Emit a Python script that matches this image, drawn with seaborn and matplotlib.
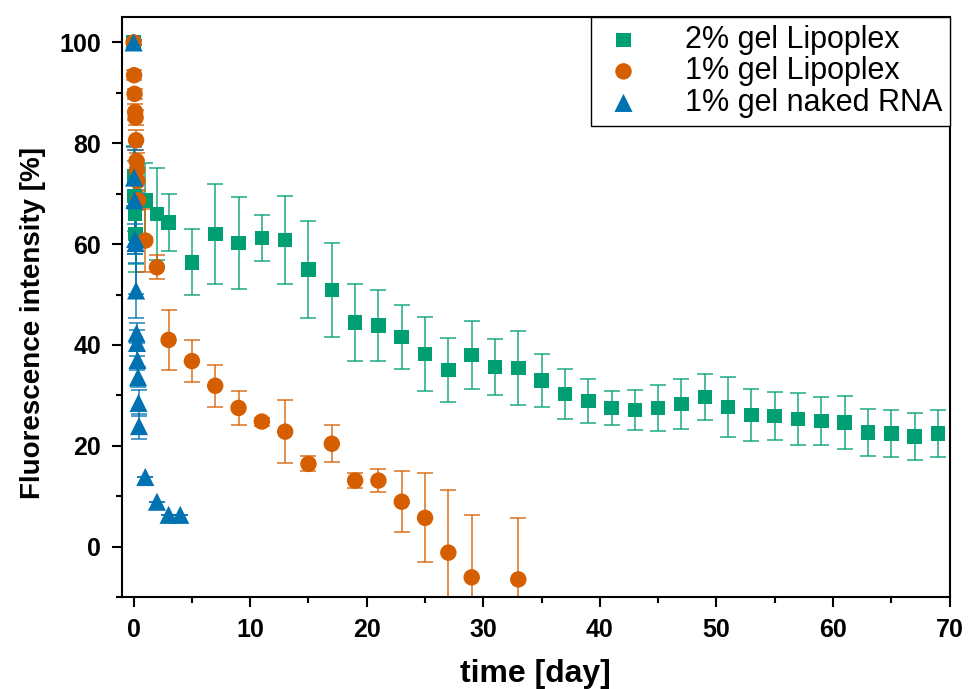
import numpy as np
import pandas as pd
import matplotlib
matplotlib.use("Agg")
import matplotlib.pyplot as plt
from matplotlib.ticker import MultipleLocator
import seaborn as sns

# 2% gel Lipoplex
t_2pct = [0, 0.04, 0.08, 0.13, 0.17, 0.21, 1, 2, 3, 5, 7, 9, 11, 13, 15, 17, 19, 21, 23, 25, 27, 29,
          31, 33, 35, 37, 39, 41, 43, 45, 47, 49, 51, 53, 55, 57, 59, 61, 63, 65, 67, 69]
y_2pct = [100, 73.5, 69.5, 66, 62, 61.5, 68.7, 66, 64.3, 56.4, 62, 60.2, 61.2, 60.8, 55, 50.9, 44.4, 43.8,
          41.6, 38.2, 35, 38, 35.6, 35.4, 33, 30.3, 28.9, 27.5, 27.1, 27.5, 28.3, 29.7, 27.7, 26.1, 25.9,
          25.3, 24.9, 24.6, 22.6, 22.4, 21.8, 22.4]
e_2pct = [0.5, 6, 7, 8, 6, 7, 7.3, 9.1, 5.7, 6.5, 10, 9.1, 4.5, 8.7, 9.6, 9.4, 7.6, 7, 6.3, 7.3, 6.3, 6.7,
          5.5, 7.3, 5.3, 4.9, 4.4, 3.4, 4, 4.5, 5, 4.5, 6, 5.1, 4.7, 5.1, 4.8, 5.2, 4.7, 4.7, 4.7, 4.7]

# 1% gel Lipoplex
t_1pct = [0, 0.04, 0.08, 0.13, 0.17, 0.21, 0.25, 0.29, 0.33, 0.38, 1, 2, 3, 5, 7, 9, 11, 13, 15, 17,
          19, 21, 23, 25, 27, 29, 33]
y_1pct = [100, 93.5, 89.8, 86.2, 85.1, 80.6, 76.5, 74.7, 72.5, 68.7, 60.7, 55.4, 41, 36.8, 31.9, 27.5,
          24.8, 22.8, 16.4, 20.4, 13.1, 13.1, 8.9, 5.7, -1.2, -6.1, -6.5]
e_1pct = [0.5, 1, 1, 1.5, 1.5, 2, 1.5, 2, 2, 2, 6.3, 2.4, 6, 4.2, 4.2, 3.4, 0.8, 6.3, 1.5, 3.7, 1.4,
          2.3, 6, 8.8, 12.5, 12.3, 12.1]

# 1% gel naked RNA
t_rna = [0, 0.04, 0.08, 0.13, 0.17, 0.21, 0.25, 0.29, 0.33, 0.38, 0.42, 0.46, 1, 2, 3, 4]
y_rna = [100, 73.2, 68.7, 61, 60.2, 50.8, 42.3, 40.4, 37, 33.6, 28.5, 23.9, 13.8, 8.9, 6.3, 6.3]
e_rna = [0.5, 6, 10, 3, 10, 5.5, 2, 2.5, 2, 2, 2.5, 2.5, 0, 0, 0, 0]

labels = ["2% gel Lipoplex", "1% gel Lipoplex", "1% gel naked RNA"]
colors = ["#009E73", "#D55E00", "#0072B2"]
markers = ["s", "o", "^"]
sizes = [110, 140, 170]

df = pd.concat([
    pd.DataFrame({"t": t_2pct, "y": y_2pct, "err": e_2pct, "group": labels[0]}),
    pd.DataFrame({"t": t_1pct, "y": y_1pct, "err": e_1pct, "group": labels[1]}),
    pd.DataFrame({"t": t_rna, "y": y_rna, "err": e_rna, "group": labels[2]}),
], ignore_index=True)

sns.set_style("ticks")
plt.rcParams["font.family"] = ["Liberation Sans", "DejaVu Sans"]
plt.rcParams.update({"text.color": "black", "axes.labelcolor": "black",
                     "xtick.color": "black", "ytick.color": "black"})

fig = plt.figure(figsize=(9.68, 6.89), dpi=100)
ax = fig.add_axes([0.126, 0.1335, 0.855, 0.8415])

for lab, col in zip(labels, colors):
    d = df[df["group"] == lab]
    ax.errorbar(d["t"], d["y"], yerr=d["err"], fmt="none", ecolor=col, elinewidth=1.3,
                capsize=6, capthick=1.3, alpha=0.75, zorder=2)

for lab, col, mk, sz in zip(labels, colors, markers, sizes):
    d = df[df["group"] == lab]
    sns.scatterplot(data=d, x="t", y="y", ax=ax, color=col, marker=mk, s=sz,
                    edgecolor="none", linewidth=0, label=lab, zorder=3)

ax.set_xlim(-1, 70)
ax.set_ylim(-10, 105)
ax.xaxis.set_major_locator(MultipleLocator(10))
ax.xaxis.set_minor_locator(MultipleLocator(5))
ax.yaxis.set_major_locator(MultipleLocator(20))
ax.yaxis.set_minor_locator(MultipleLocator(10))
ax.tick_params(which="major", direction="out", length=7, width=1.5, labelsize=18, pad=8)
ax.tick_params(which="minor", direction="out", length=4, width=1.5)
for lbl in ax.get_xticklabels() + ax.get_yticklabels():
    lbl.set_fontweight("bold")
for sp in ax.spines.values():
    sp.set_visible(True)
    sp.set_linewidth(1.5)
    sp.set_color("black")

ax.set_xlabel("time [day]", fontsize=23, fontweight="bold", labelpad=12)
ax.set_ylabel("Fluorescence intensity [%]", fontsize=20, fontweight="bold")
ax.yaxis.set_label_coords(-0.092, 0.472)

leg = ax.legend(loc="upper right", bbox_to_anchor=(1, 1), borderaxespad=0, fontsize=22,
                frameon=True, fancybox=False, framealpha=1, edgecolor="black",
                handlelength=1.6, handletextpad=1.2, borderpad=0.25, labelspacing=0.05,
                markerscale=1.0)
leg.get_frame().set_linewidth(1.0)

fig.savefig("out.png", dpi=100)
